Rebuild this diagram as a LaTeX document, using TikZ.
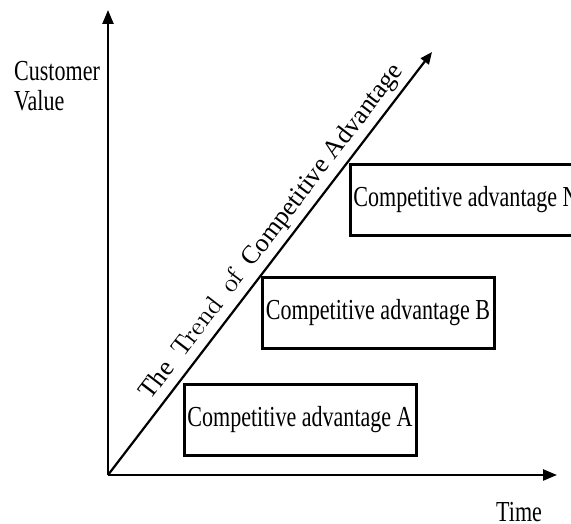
\documentclass[tikz,border=0pt]{standalone}
\usepackage{fontspec}
\setmainfont{Liberation Serif}[FakeStretch=0.76]
\newfontfamily\diagfont{Liberation Serif}
\newfontfamily\trendfont{lmroman10-regular.otf}
\usetikzlibrary{arrows.meta}

\begin{document}
\begin{tikzpicture}[x=1pt, y=1pt, line width=2.4pt,
    axis/.style={line width=2.4pt, -{Triangle[length=14pt, width=11pt]}},
    advbox/.style={draw, line width=3pt, minimum width=232pt, minimum height=71pt, inner sep=0pt, font=\fontsize{29}{30}\selectfont},
    lbl/.style={inner sep=0pt, font=\fontsize{29}{30}\selectfont}]
    \useasboundingbox (0,0) rectangle (571,524);
    \clip (0,0) rectangle (571,524);

    % Axes
    \coordinate (O) at (108,49);
    \coordinate (ytip) at (108,514);
    \coordinate (xtip) at (557,49);
    \coordinate (dtip) at (432,472);
    \draw[axis] (O) -- (ytip);
    \draw[axis] (O) -- (xtip);
    \node[lbl, anchor=north west, align=left] (ylabel) at (13,464) {Customer\\Value};
    \node[lbl, anchor=base west] (xlabel) at (495,2) {Time};

    % Trend of the advantage
    \draw[line width=2.2pt, -{Triangle[length=12pt, width=10pt]}] (O) -- (dtip)
        node[sloped, pos=0.549, anchor=south, inner xsep=0pt, inner ysep=4.4pt, font=\fontsize{26}{26}\diagfont] (trend)
        {The\enspace {\trendfont Trend\enspace of}\enspace Competitive Advantage};

    % Advantage boxes
    \node[advbox] (advA) at (300,104) {Competitive advantage A};
    \node[advbox] (advB) at (378,211) {Competitive advantage B};
    \node[advbox] (advN) at (466,324) {Competitive advantage N};
\end{tikzpicture}
\end{document}
